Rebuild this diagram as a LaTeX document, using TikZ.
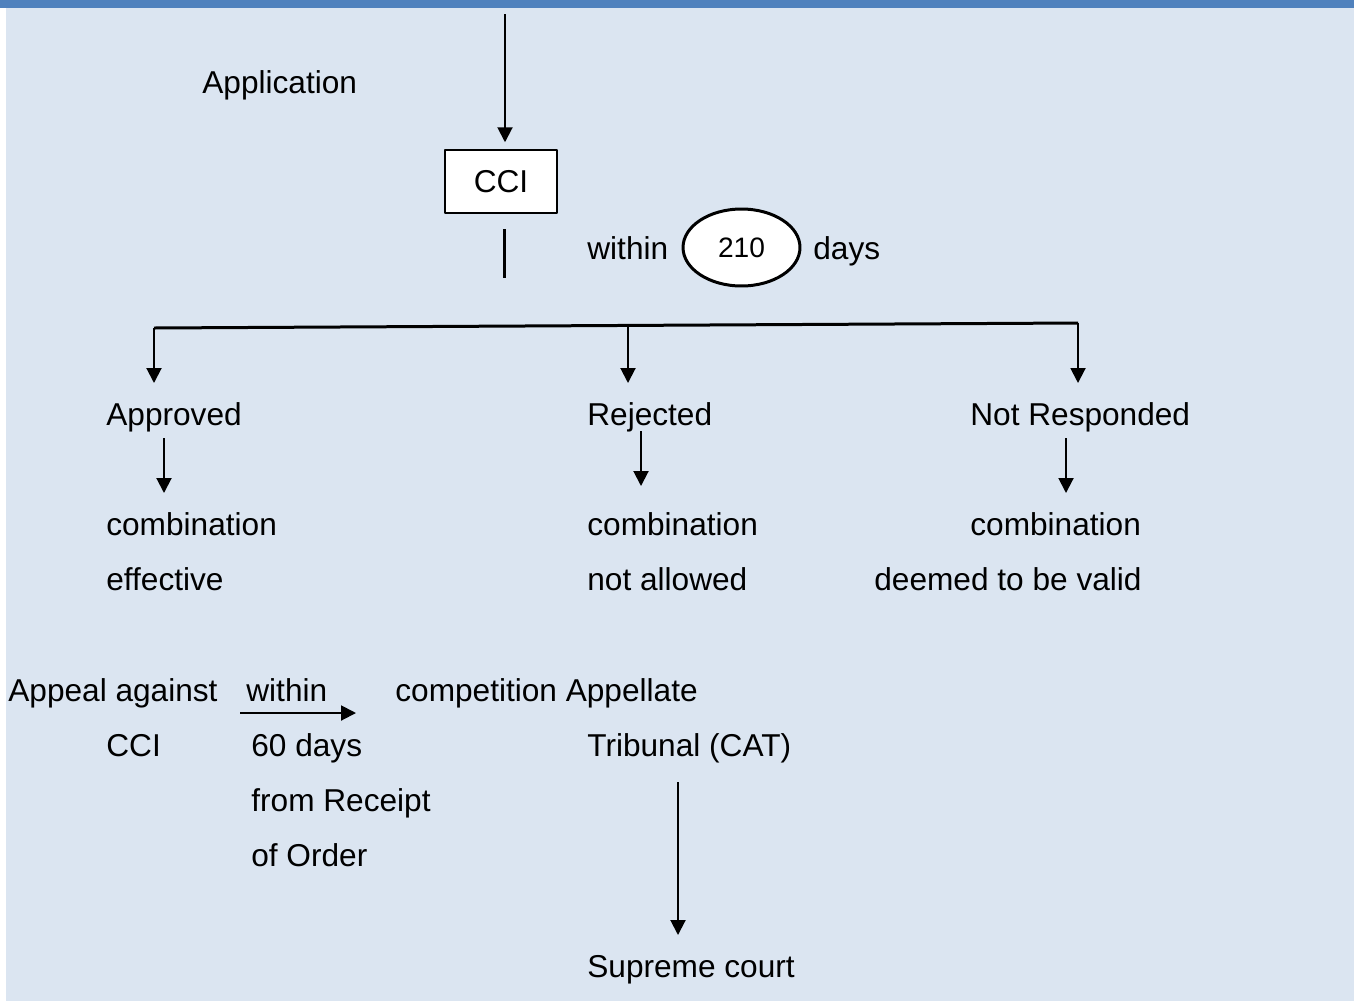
\documentclass[tikz,border=0pt]{standalone}
\usepackage{fontspec}
\setmainfont{Liberation Sans}
\usetikzlibrary{arrows.meta,shapes.geometric}
\definecolor{pagebg}{HTML}{DBE5F1}
\definecolor{barblue}{HTML}{4F81BD}
\begin{document}
\begin{tikzpicture}[x=0.02cm, y=-0.02cm, font=\fontsize{18}{22}\selectfont, line join=round, >={Triangle[length=0.3cm, width=0.3cm]},
	txt/.style={anchor=base west, inner sep=0pt},
	flow/.style={->, line width=0.04cm},
	heavy/.style={line width=0.06cm}]
	% ==========================================
	\fill[white] (0,0) rectangle (1354,1001);
	\fill[pagebg] (6,8) rectangle (1354,1001);
	\fill[barblue] (0,0) rectangle (1354,8);
	\useasboundingbox (0,0) rectangle (1354,1001);
	% ==========================================
	\node[txt] (appl) at (202,93) {Application};
	\node[draw, fill=white, line width=0.03cm, minimum width=2.24cm, minimum height=1.26cm, inner sep=0pt] (cci) at (501,181.5) {CCI};
	\coordinate (in) at (505,14);
	\draw[flow, shorten >=0.14cm] (in) -- (in |- cci.north);
	\coordinate (s1) at (504,229);
	\coordinate (s2) at (504,278);
	\draw[heavy] (s1) -- (s2);
	\node[txt] (within) at (587,259) {within};
	\node[ellipse, draw, fill=white, heavy, minimum width=2.34cm, minimum height=1.54cm, inner sep=0pt, font=\fontsize{16}{19}\selectfont] (days210) at (741.5,247.5) {210};
	\node[txt] (days) at (813,259) {days};
	% ==========================================
	\coordinate (bl) at (154,328);
	\coordinate (bm) at (628,326);
	\coordinate (br) at (1078,323);
	\draw[heavy] (bl) -- (br);
	\coordinate (t1) at (154,383);
	\coordinate (t2) at (628,383);
	\coordinate (t3) at (1078,383);
	\draw[flow] (bl) -- (t1);
	\draw[flow] (bm) -- (t2);
	\draw[flow] (br) -- (t3);
	\node[txt] (appr) at (106,425) {Approved};
	\node[txt] (rej) at (587,425) {Rejected};
	\node[txt] (notr) at (970,425) {Not Responded};
	% ==========================================
	\coordinate (a1) at (164,438);
	\coordinate (a2) at (164,493);
	\coordinate (r1) at (641,431);
	\coordinate (r2) at (641,486);
	\coordinate (n1) at (1066,438);
	\coordinate (n2) at (1066,493);
	\draw[flow] (a1) -- (a2);
	\draw[flow] (r1) -- (r2);
	\draw[flow] (n1) -- (n2);
	\node[txt] (comb1) at (106,535) {combination};
	\node[txt] (comb2) at (587,535) {combination};
	\node[txt] (comb3) at (970,535) {combination};
	\node[txt] (eff) at (106,590) {effective};
	\node[txt] (notall) at (587,590) {not allowed};
	\node[txt] (deemed) at (874,590) {deemed to be valid};
	% ==========================================
	\node[txt] (appeal) at (8,701) {Appeal against};
	\node[txt] (within2) at (246,701) {within};
	\node[txt] (compet) at (395,701) {competition Appellate};
	\node[txt] (cci2) at (106,756) {CCI};
	\node[txt] (sixty) at (251,756) {60 days};
	\node[txt] (trib) at (587,756) {Tribunal (CAT)};
	\node[txt] (receipt) at (251,811) {from Receipt};
	\node[txt] (order) at (251,866) {of Order};
	\node[txt] (sc) at (587,977) {Supreme court};
	\coordinate (w1) at (240,713);
	\coordinate (w2) at (356,713);
	\draw[flow] (w1) -- (w2);
	\coordinate (c1) at (678,782);
	\coordinate (c2) at (678,935);
	\draw[flow] (c1) -- (c2);
\end{tikzpicture}
\end{document}
